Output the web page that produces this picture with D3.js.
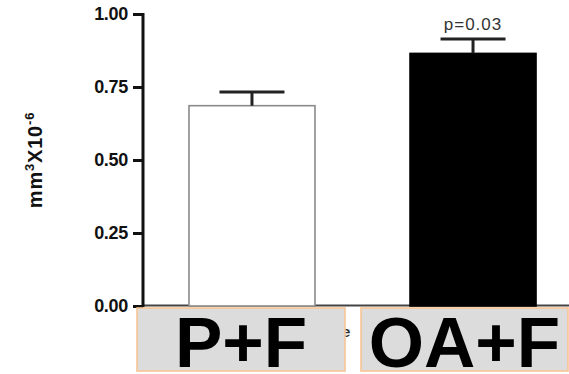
<!DOCTYPE html>
<html>
<head>
<meta charset="utf-8">
<script src="https://cdn.jsdelivr.net/npm/d3@7"></script>
<style>
  html, body { margin: 0; padding: 0; background: #fff; }
  svg { display: block; }
  text { font-family: "Liberation Sans", Arial, sans-serif; }
</style>
</head>
<body>
<svg id="chart" width="569" height="374"></svg>
<script>
const categories = ["P+F", "OA+F"];
const means = [0.686, 0.865];
const errors = [0.047, 0.049];
const barFills = ["#ffffff", "#000000"];
const barStrokes = ["#8a8a8a", "#000000"];
const yTicks = [0, 0.25, 0.5, 0.75, 1.0];
const pLabel = "p=0.03";

const svg = d3.select("#chart");

const y = d3.scaleLinear().domain([0, 1]).range([306, 14]);
const x = d3.scaleBand().domain(categories).range([143, 582])
  .paddingInner(0.43).paddingOuter(0.208);

// baseline
svg.append("line")
  .attr("x1", 143).attr("x2", 569).attr("y1", 305.5).attr("y2", 305.5)
  .attr("stroke", "#444").attr("stroke-width", 2);

// bars
svg.selectAll("rect.bar").data(categories).join("rect")
  .attr("class", "bar")
  .attr("x", d => x(d))
  .attr("width", x.bandwidth())
  .attr("y", (d, i) => y(means[i]))
  .attr("height", (d, i) => y(0) - y(means[i]))
  .attr("fill", (d, i) => barFills[i])
  .attr("stroke", (d, i) => barStrokes[i])
  .attr("stroke-width", 1.6);

// error bars
const capW = 65;
categories.forEach((c, i) => {
  const cx = x(c) + x.bandwidth() / 2;
  svg.append("line")
    .attr("x1", cx).attr("x2", cx)
    .attr("y1", y(means[i])).attr("y2", y(means[i] + errors[i]))
    .attr("stroke", "#222").attr("stroke-width", 3);
  svg.append("line")
    .attr("x1", cx - capW / 2).attr("x2", cx + capW / 2)
    .attr("y1", y(means[i] + errors[i])).attr("y2", y(means[i] + errors[i]))
    .attr("stroke", "#222").attr("stroke-width", 3);
});

// p label
svg.append("text")
  .attr("x", x(categories[1]) + x.bandwidth() / 2)
  .attr("y", 30)
  .attr("text-anchor", "middle")
  .attr("font-size", 17)
  .attr("letter-spacing", 1)
  .attr("fill", "#333")
  .text(pLabel);

// y axis
const yAxis = d3.axisLeft(y).tickValues(yTicks).tickFormat(d3.format(".2f"))
  .tickSize(10).tickPadding(5);
const gy = svg.append("g").attr("transform", "translate(143,0)").call(yAxis);
gy.select(".domain").attr("stroke", "#111").attr("stroke-width", 3)
  .attr("d", `M0,${y(1) - 1}V${y(0) + 1}`);
gy.selectAll(".tick line").attr("stroke", "#111").attr("stroke-width", 3);
gy.selectAll(".tick text")
  .attr("font-family", "Liberation Sans, Arial, sans-serif")
  .attr("font-size", 18).attr("font-weight", "bold").attr("fill", "#111")
  .attr("letter-spacing", -0.3);

// y axis title
const yt = svg.append("text")
  .attr("transform", "translate(42,160) rotate(-90)")
  .attr("text-anchor", "middle")
  .attr("font-size", 20).attr("font-weight", "bold").attr("fill", "#111")
  .attr("letter-spacing", 0.8);
yt.append("tspan").text("mm");
yt.append("tspan").attr("dy", -8).attr("font-size", 13).text("3");
yt.append("tspan").attr("dy", 8).text("X10");
yt.append("tspan").attr("dy", -8).attr("font-size", 13).text("-6");

// remnant glyph behind label boxes
svg.append("text").attr("x", 342).attr("y", 337)
  .attr("font-size", 15).attr("font-weight", "bold").attr("fill", "#333").text("e");

// category label boxes
const boxes = [{x0: 137, x1: 345}, {x0: 361, x1: 568}];
categories.forEach((c, i) => {
  const b = boxes[i];
  svg.append("rect")
    .attr("x", b.x0).attr("y", 308).attr("width", b.x1 - b.x0).attr("height", 63)
    .attr("fill", "#dcdcdc").attr("stroke", "#f8c594").attr("stroke-width", 1.6);
  svg.append("text")
    .attr("x", (b.x0 + b.x1) / 2).attr("y", 367)
    .attr("text-anchor", "middle")
    .attr("font-size", 71).attr("font-weight", "bold").attr("fill", "#000")
    .text(c);
});
</script>
</body>
</html>
